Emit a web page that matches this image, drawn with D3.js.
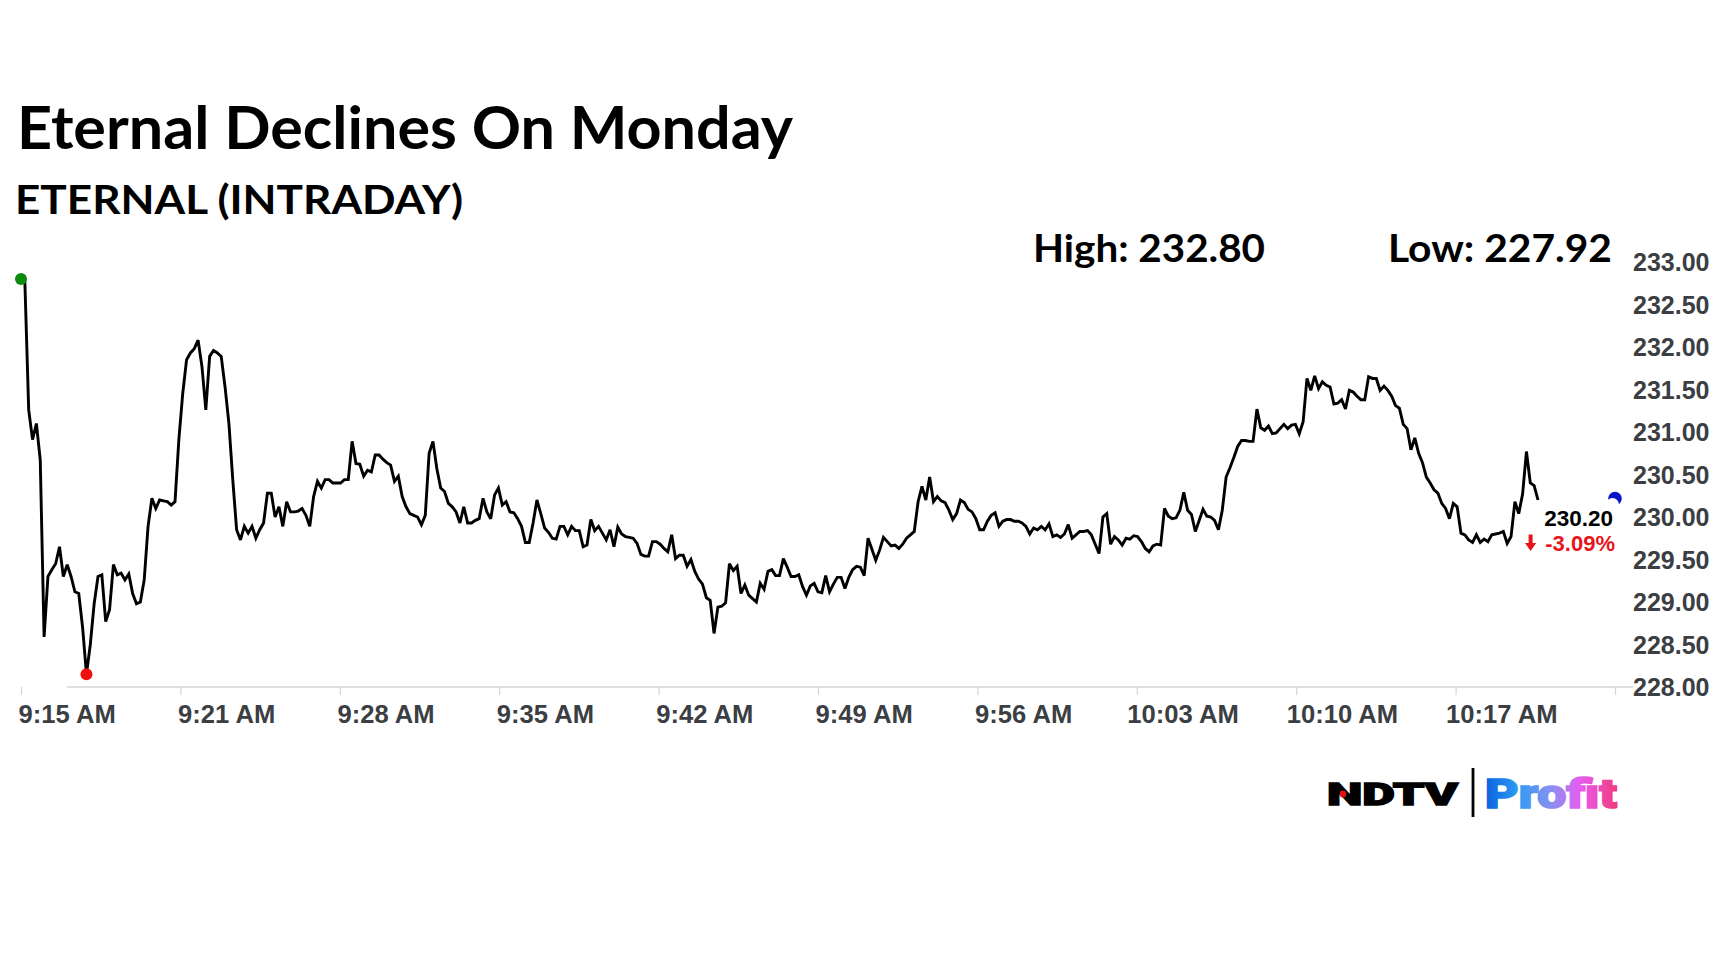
<!DOCTYPE html>
<html>
<head>
<meta charset="utf-8">
<script src="https://cdn.jsdelivr.net/npm/d3@7"></script>
<style>
  html, body { margin: 0; padding: 0; background: #ffffff; }
  svg { display: block; }
</style>
</head>
<body>
<script>
// ---------------- DATA ----------------
const titleText = "Eternal Declines On Monday";
const subtitleText = "ETERNAL (INTRADAY)";
const highText = "High: 232.80";
const lowText = "Low: 227.92";
const lastPriceText = "230.20";
const changeText = "-3.09%";

// one price every 10 seconds from 9:15:00 AM
const prices = [
  232.80, 232.77, 231.26, 230.91, 231.10, 230.67, 228.59, 229.30, 229.38, 229.45,
  229.65, 229.30, 229.44, 229.30, 229.12, 229.10, 228.70, 228.15, 228.50, 228.98,
  229.30, 229.32, 228.77, 228.91, 229.44, 229.32, 229.34, 229.26, 229.33, 229.10,
  228.98, 229.00, 229.26, 229.89, 230.22, 230.10, 230.20, 230.19, 230.18, 230.14,
  230.18, 230.91, 231.45, 231.85, 231.93, 231.98, 232.08, 231.77, 231.26, 231.89,
  231.96, 231.93, 231.89, 231.53, 231.10, 230.44, 229.85, 229.73, 229.89, 229.81,
  229.89, 229.75, 229.85, 229.93, 230.28, 230.28, 230.00, 230.12, 229.89, 230.18,
  230.06, 230.06, 230.07, 230.10, 230.02, 229.89, 230.24, 230.42, 230.34, 230.44,
  230.44, 230.40, 230.40, 230.40, 230.44, 230.44, 230.89, 230.63, 230.62, 230.48,
  230.55, 230.53, 230.73, 230.73, 230.68, 230.64, 230.61, 230.42, 230.48, 230.24,
  230.12, 230.04, 230.02, 230.00, 229.91, 230.02, 230.75, 230.89, 230.57, 230.34,
  230.30, 230.16, 230.12, 230.06, 229.93, 230.12, 229.93, 229.93, 229.96, 229.98,
  230.22, 230.06, 229.98, 230.26, 230.34, 230.14, 230.18, 230.06, 230.05, 229.98,
  229.89, 229.70, 229.70, 229.93, 230.20, 230.04, 229.87, 229.82, 229.75, 229.74,
  229.89, 229.89, 229.79, 229.89, 229.84, 229.84, 229.65, 229.67, 229.97, 229.84,
  229.89, 229.81, 229.73, 229.85, 229.65, 229.88, 229.80, 229.77, 229.76, 229.75,
  229.69, 229.56, 229.54, 229.54, 229.71, 229.71, 229.68, 229.63, 229.59, 229.79,
  229.51, 229.55, 229.55, 229.42, 229.50, 229.36, 229.27, 229.21, 229.05, 229.02,
  228.63, 228.94, 228.95, 228.99, 229.45, 229.37, 229.42, 229.10, 229.20, 229.08,
  229.04, 229.00, 229.22, 229.15, 229.36, 229.38, 229.31, 229.31, 229.51, 229.41,
  229.30, 229.30, 229.32, 229.18, 229.08, 229.19, 229.22, 229.12, 229.11, 229.31,
  229.12, 229.21, 229.29, 229.29, 229.16, 229.29, 229.38, 229.42, 229.41, 229.31,
  229.75, 229.62, 229.49, 229.61, 229.76, 229.71, 229.66, 229.67, 229.63, 229.68,
  229.75, 229.79, 229.83, 230.18, 230.36, 230.20, 230.47, 230.18, 230.24, 230.19,
  230.17, 230.08, 229.97, 230.04, 230.20, 230.17, 230.09, 230.06, 229.98, 229.85,
  229.85, 229.95, 230.02, 230.05, 229.89, 229.95, 229.97, 229.97, 229.95, 229.95,
  229.93, 229.89, 229.80, 229.87, 229.85, 229.89, 229.85, 229.92, 229.77, 229.79,
  229.76, 229.80, 229.91, 229.75, 229.79, 229.83, 229.83, 229.84, 229.79, 229.68,
  229.57, 230.00, 230.04, 229.68, 229.77, 229.73, 229.67, 229.75, 229.74, 229.78,
  229.77, 229.71, 229.63, 229.59, 229.66, 229.68, 229.67, 230.10, 230.01, 229.98,
  229.99, 230.08, 230.29, 230.08, 230.03, 229.83, 229.96, 230.09, 230.01, 230.00,
  229.96, 229.85, 230.08, 230.47, 230.58, 230.70, 230.83, 230.90, 230.90, 230.89,
  230.89, 231.27, 231.05, 231.02, 231.07, 230.98, 230.99, 231.04, 231.09, 231.04,
  231.08, 231.09, 230.98, 231.12, 231.63, 231.49, 231.66, 231.51, 231.59, 231.55,
  231.53, 231.33, 231.34, 231.38, 231.27, 231.49, 231.47, 231.42, 231.38, 231.38,
  231.65, 231.63, 231.63, 231.49, 231.54, 231.49, 231.42, 231.31, 231.28, 231.09,
  231.04, 230.79, 230.93, 230.75, 230.64, 230.47, 230.40, 230.32, 230.28, 230.16,
  230.10, 229.98, 230.16, 230.12, 229.81, 229.79, 229.73, 229.70, 229.79, 229.70,
  229.74, 229.71, 229.79, 229.80, 229.81, 229.83, 229.69, 229.77, 230.18, 230.04,
  230.27, 230.77, 230.40, 230.37, 230.20
];

// x axis: session slots (10 s each); labelled tick every 41.4 slots
const totalSlots = 414;
const tickEvery = 41.4;
const xTickLabels = ["9:15 AM", "9:21 AM", "9:28 AM", "9:35 AM", "9:42 AM",
                     "9:49 AM", "9:56 AM", "10:03 AM", "10:10 AM", "10:17 AM", ""];
const yTicks = [228, 228.5, 229, 229.5, 230, 230.5, 231, 231.5, 232, 232.5, 233];
const lastPrice = 230.20;
const startIndex = 0;
const lowIndex = 17;

// ---------------- CHART ----------------
const W = 1728, H = 972;
const svg = d3.select("body").append("svg").attr("width", W).attr("height", H);

const x = d3.scaleLinear().domain([0, totalSlots]).range([21, 1615]);
const y = d3.scaleLinear().domain([228, 233]).range([687, 262]);

// titles
svg.append("text").attr("x", 17).attr("y", 149)
  .attr("font-family", "Lato, 'Open Sans', sans-serif").attr("font-weight", 700)
  .attr("font-size", 59).attr("fill", "#000")
  .attr("textLength", 776).attr("lengthAdjust", "spacingAndGlyphs")
  .text(titleText);
svg.append("text").attr("x", 15).attr("y", 214)
  .attr("font-family", "Lato, 'Open Sans', sans-serif").attr("font-weight", 700)
  .attr("font-size", 40).attr("fill", "#000")
  .attr("textLength", 448).attr("lengthAdjust", "spacingAndGlyphs")
  .text(subtitleText);
svg.append("text").attr("x", 1033).attr("y", 262)
  .attr("font-family", "Lato, 'Open Sans', sans-serif").attr("font-weight", 700)
  .attr("font-size", 38).attr("fill", "#000")
  .attr("textLength", 232).attr("lengthAdjust", "spacingAndGlyphs")
  .text(highText);
svg.append("text").attr("x", 1388).attr("y", 262)
  .attr("font-family", "Lato, 'Open Sans', sans-serif").attr("font-weight", 700)
  .attr("font-size", 38).attr("fill", "#000")
  .attr("textLength", 224).attr("lengthAdjust", "spacingAndGlyphs")
  .text(lowText);

// x axis
const xTickVals = d3.range(xTickLabels.length).map(k => k * tickEvery);
const xAxis = d3.axisBottom(x).tickValues(xTickVals).tickSize(8)
  .tickFormat((d, i) => xTickLabels[i]);
const gx = svg.append("g").attr("transform", "translate(0,687)").call(xAxis);
gx.select(".domain").remove();
gx.selectAll(".tick line").attr("stroke", "#d4d4d4").attr("stroke-width", 1.2);
gx.selectAll(".tick text")
  .attr("x", 45.7).attr("y", 36).attr("dy", 0)
  .attr("text-anchor", "middle")
  .attr("font-family", "'Liberation Sans', Arial, sans-serif")
  .attr("font-weight", 700).attr("font-size", 25.6).attr("fill", "#3b3e42");
gx.append("line").attr("x1", 67).attr("x2", 1633).attr("y1", 0).attr("y2", 0)
  .attr("stroke", "#d4d4d4").attr("stroke-width", 1.5);

// y axis
const yAxis = d3.axisRight(y).tickValues(yTicks).tickSize(0).tickFormat(d3.format(".2f"));
const gy = svg.append("g").attr("transform", "translate(1709.5,0)").call(yAxis);
gy.select(".domain").remove();
gy.selectAll(".tick text")
  .attr("x", 0).attr("dy", "0.35em").attr("text-anchor", "end")
  .attr("font-family", "'Liberation Sans', Arial, sans-serif")
  .attr("font-weight", 700).attr("font-size", 25).attr("fill", "#3b3e42");

// price line
const line = d3.line().x((d, i) => x(i)).y(d => y(d));
svg.append("path").datum(prices)
  .attr("d", line).attr("fill", "none")
  .attr("stroke", "#000").attr("stroke-width", 2.9)
  .attr("stroke-linejoin", "miter").attr("stroke-miterlimit", 3);

// markers
svg.append("circle").attr("cx", x(startIndex)).attr("cy", y(prices[startIndex]))
  .attr("r", 6).attr("fill", "#0b8a0b");
svg.append("circle").attr("cx", x(lowIndex)).attr("cy", y(prices[lowIndex]))
  .attr("r", 6).attr("fill", "#f01010");
svg.append("circle").attr("cx", x(totalSlots)).attr("cy", y(lastPrice) - 1.5)
  .attr("r", 6.8).attr("fill", "#0a14c8");
svg.append("circle").attr("cx", x(totalSlots) - 2.5).attr("cy", y(lastPrice) + 4.5)
  .attr("r", 6.5).attr("fill", "#ffffff");

// last price label
svg.append("text").attr("x", 1613).attr("y", 526).attr("text-anchor", "end")
  .attr("font-family", "'Liberation Sans', Arial, sans-serif")
  .attr("font-weight", 700).attr("font-size", 22.5).attr("fill", "#000")
  .text(lastPriceText);
svg.append("text").attr("x", 1615).attr("y", 551).attr("text-anchor", "end")
  .attr("font-family", "'Liberation Sans', Arial, sans-serif")
  .attr("font-weight", 700).attr("font-size", 22).attr("fill", "#e8141c")
  .text(changeText);
svg.append("path")
  .attr("d", "M1528.6,534.5 h4 v8.5 h3.6 l-5.6,8 l-5.6,-8 h3.6 z")
  .attr("fill", "#e8141c");

// logo
const defs = svg.append("defs");
const grad = defs.append("linearGradient").attr("id", "profitGrad")
  .attr("gradientUnits", "userSpaceOnUse")
  .attr("x1", 1485).attr("y1", 0).attr("x2", 1618).attr("y2", 0);
[["0%", "#0a62e0"], ["25%", "#2f9cf2"], ["50%", "#8a8ff2"], ["72%", "#e85cf0"], ["100%", "#f03a7a"]]
  .forEach(([o, c]) => grad.append("stop").attr("offset", o).attr("stop-color", c));

svg.append("text").attr("x", 1327).attr("y", 805)
  .attr("font-family", "Roboto, 'Liberation Sans', sans-serif").attr("font-weight", 900)
  .attr("font-size", 31).attr("fill", "#000").attr("stroke", "#000").attr("stroke-width", 1.4)
  .attr("textLength", 131).attr("lengthAdjust", "spacingAndGlyphs")
  .text("NDTV");
svg.append("circle").attr("cx", 1343).attr("cy", 794).attr("r", 3.4).attr("fill", "#e01010");
svg.append("line").attr("x1", 1473).attr("x2", 1473).attr("y1", 768).attr("y2", 817)
  .attr("stroke", "#000").attr("stroke-width", 2.8);
svg.append("text").attr("x", 1485).attr("y", 808)
  .attr("font-family", "Roboto, Inter, sans-serif").attr("font-weight", 900)
  .attr("font-size", 40).attr("fill", "url(#profitGrad)")
  .attr("stroke", "url(#profitGrad)").attr("stroke-width", 1.6)
  .attr("textLength", 132).attr("lengthAdjust", "spacingAndGlyphs")
  .text("Profit");
</script>
</body>
</html>
